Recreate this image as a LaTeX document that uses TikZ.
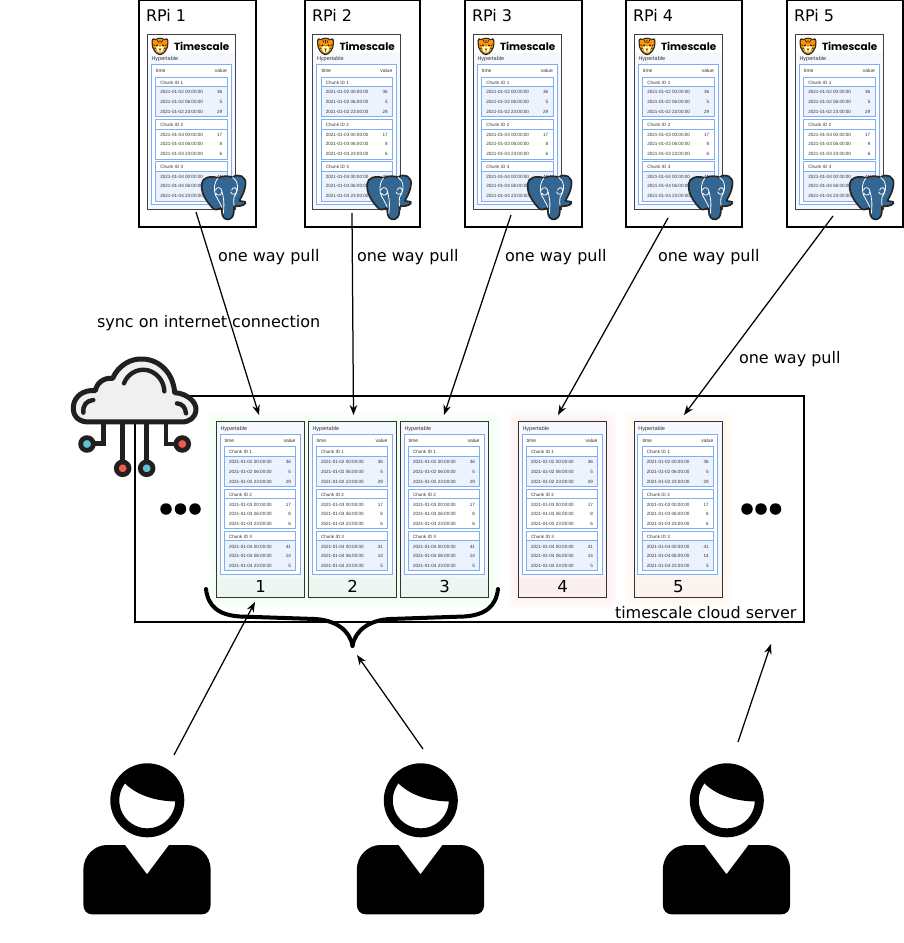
\documentclass[tikz,border=0pt]{standalone}
\usepackage{fontspec}
\setmainfont{DejaVu Sans}
\newfontfamily\tblfont{Liberation Sans}
\newfontfamily\logofont{Poppins}
\usetikzlibrary{arrows.meta}
\definecolor{tblblue}{HTML}{7FAEF2}
\definecolor{rowblue}{HTML}{ECF2FE}
\definecolor{panel}{HTML}{F6F8FF}
\definecolor{pgblue}{HTML}{336791}
\definecolor{cldark}{HTML}{231F20}
\definecolor{gbot}{HTML}{EEF6F1}
\definecolor{pbot}{HTML}{FBEFEF}
\definecolor{obot}{HTML}{FDF3EE}
\definecolor{pcyan}{HTML}{5CC5D5}
\definecolor{pred}{HTML}{EE5B4F}
\newcommand{\chunktwob}{8}
\tikzset{
  every node/.style={outer sep=0pt},
  arr/.style={draw=black,line width=1.25pt,-{Stealth[length=10pt,width=7.5pt]}},
  lbl/.style={font=\fontsize{16}{18}\selectfont,inner sep=0pt,anchor=west},
  numlbl/.style={font=\fontsize{16.5}{18}\selectfont,inner sep=0pt},
  tbl/.style={font=\tblfont\fontsize{4.6}{5}\selectfont,inner sep=0pt,text=black!80},
  tblhead/.style={font=\tblfont\fontsize{5}{6}\selectfont,inner sep=0pt,text=black!80},
  tbltitle/.style={font=\tblfont\fontsize{5.5}{6}\selectfont,inner sep=0pt,text=black!80},
  framebox/.style={draw=black,line width=1.8pt,inner sep=0pt,rectangle},
  innerbox/.style={draw=black!75,line width=0.9pt,fill=white,inner sep=0pt,rectangle,minimum width=88pt,minimum height=175pt},
  cardbox/.style={draw=black!80,line width=0.9pt,inner sep=0pt,rectangle,minimum width=88pt,minimum height=176pt},
  tblline/.style={draw=tblblue,line width=0.9pt},
  blackdot/.style={circle,fill=black,inner sep=0pt,minimum size=11.5pt},
  cloudpin/.style={draw=cldark,line width=4.6pt},
}
% #1 name prefix, #2,#3 top-left of the blue outer table frame
\newcommand{\hyper}[3]{%
\begin{scope}[shift={(#2,#3)}]
  \fill[white] (0,0) rectangle (80,140);
  \draw[tblline] (0,0) rectangle (80,140);
  \node[tblhead,anchor=west] (#1time) at (4.7,6) {time};
  \node[tblhead,anchor=east] (#1value) at (75.5,6) {value};
  \foreach \ci/\ctop/\fillc/\dday/\vala/\valb/\valc in {1/12.4/rowblue/02/36/5/29,2/54.7/white/03/17/\chunktwob/6,3/96.7/rowblue/04/41/14/5}{
    \fill[\fillc] (4.3,\ctop+9.6) rectangle (75.7,\ctop+39.6);
    \draw[tblline] (4.3,\ctop) rectangle (75.7,\ctop+39.6);
    \draw[tblline] (4.3,\ctop+9.6) -- (75.7,\ctop+9.6);
    \node[tbl,anchor=west] (#1c\ci) at (9,\ctop+5.3) {Chunk ID \ci};
    \node[tbl,anchor=west] (#1c\ci a) at (9,\ctop+15.3) {2021-01-\dday\ 00:00:00};
    \node[tbl,anchor=west] (#1c\ci b) at (9,\ctop+25) {2021-01-\dday\ 06:00:00};
    \node[tbl,anchor=west] (#1c\ci d) at (9,\ctop+34.6) {2021-01-\dday\ 23:00:00};
    \node[tbl,anchor=east] (#1v\ci a) at (71,\ctop+15.3) {\vala};
    \node[tbl,anchor=east] (#1v\ci b) at (71,\ctop+25) {\valb};
    \node[tbl,anchor=east] (#1v\ci d) at (71,\ctop+34.6) {\valc};
  }
\end{scope}}
% tiger logo centred at #1,#2
\newcommand{\tiger}[2]{%
\begin{scope}[shift={(#1,#2)}]
  \fill[black!85] (-8.5,-4) .. controls (-9,-8) and (-6.5,-9.5) .. (-5,-7.5) .. controls (-2,-9.5) and (2,-9.5) .. (5,-7.5) .. controls (6.5,-9.5) and (9,-8) .. (8.5,-4) .. controls (9,2) and (4,8.5) .. (0,8.5) .. controls (-4,8.5) and (-9,2) .. (-8.5,-4) -- cycle;
  \fill[orange!85!yellow] (-7.3,-4) .. controls (-7.5,-7) and (-5.8,-8) .. (-4.6,-6.4) .. controls (-2,-8.2) and (2,-8.2) .. (4.6,-6.4) .. controls (5.8,-8) and (7.5,-7) .. (7.3,-4) .. controls (7.6,1.5) and (3.5,7) .. (0,7) .. controls (-3.5,7) and (-7.6,1.5) .. (-7.3,-4) -- cycle;
  \fill[white!80!yellow] (-4,0) .. controls (-3,-2) and (-1,-1) .. (0,0.5) .. controls (1,-1) and (3,-2) .. (4,0) .. controls (4,3) and (2,6) .. (0,6) .. controls (-2,6) and (-4,3) .. (-4,0) -- cycle;
  \fill[black!85] (-3,-1.2) circle (1.1) (3,-1.2) circle (1.1);
  \fill[black!85] (-1.4,2) -- (1.4,2) -- (0,3.6) -- cycle;
  \draw[black!85,line width=0.7pt] (0,-6.8) -- (0,-3.5) (-2.6,-6.6) -- (-1.6,-4) (2.6,-6.6) -- (1.6,-4) (-6.5,-2) -- (-5,-1) (6.5,-2) -- (5,-1) (-6,1.5) -- (-4.2,1.5) (6,1.5) -- (4.2,1.5) (0,3.6) -- (0,5);
\end{scope}}
% PostgreSQL elephant; #1,#2 = top-left of a 70x70 crop
\newcommand{\elephant}[2]{%
\begin{scope}[shift={(#1,#2)},x=0.3333pt,y=-0.3333pt]
  \path[fill=pgblue,draw=black!85,line width=1.7pt,line join=round]
    (35,72) .. controls (36,52) and (62,46) .. (84,54)
    .. controls (98,46) and (118,48) .. (128,52)
    .. controls (145,38) and (172,50) .. (166,76)
    .. controls (165,92) and (155,110) .. (148,122)
    .. controls (155,126) and (170,122) .. (166,130)
    .. controls (160,138) and (143,140) .. (132,138)
    .. controls (132,150) and (132,166) .. (126,172)
    .. controls (116,184) and (100,178) .. (97,165)
    .. controls (95,155) and (95,148) .. (95,142)
    .. controls (85,150) and (72,152) .. (66,142)
    .. controls (48,122) and (33,100) .. (35,72) -- cycle;
  \draw[white,line width=0.8pt,line cap=round]
    (84,54) .. controls (70,70) and (70,100) .. (82,115)
    (128,52) .. controls (145,62) and (148,90) .. (132,112) .. controls (130,120) and (132,130) .. (132,138)
    (82,115) .. controls (86,125) and (92,130) .. (95,142)
    (76,90) .. controls (82,78) and (94,82) .. (96,94) .. controls (96,108) and (80,108) .. (78,100)
    (125,90) .. controls (130,78) and (142,82) .. (140,96) .. controls (136,106) and (124,104) .. (122,96)
    (96,94) .. controls (100,112) and (104,125) .. (100,160);
\end{scope}}
% #1 name, #2 inner-frame left, #3 frame left, #4 frame width
\newcommand{\rpibox}[4]{%
  \node[framebox,fill=white,minimum width=#4pt,minimum height=227pt,anchor=north west] (rpi#1) at (#3,0) {};
  \node[lbl,anchor=west] (rpilabel#1) at (#3+7,15.5) {RPi #1};
  \node[innerbox,anchor=north west] (pi#1) at (#2,34) {};
  \fill[panel] (#2,52.5) rectangle (#2+88,209);
  \draw[black!75,line width=0.9pt] (pi#1.north west) rectangle (pi#1.south east);
  \tiger{#2+13}{46.7}
  \node[inner sep=0pt,anchor=west,font=\logofont\fontsize{10.4}{12}\selectfont\bfseries] (logo#1) at (#2+27,46.5) {Timescale};
  \node[tbltitle,anchor=west] (rh#1) at (#2+4.5,59) {Hypertable};
  \hyper{r#1}{#2+4.3}{64.7}
  \elephant{#2+43}{160}
}
% #1 number, #2 left x, #3 bottom colour
\newcommand{\card}[3]{%
  \node[cardbox,anchor=north west,fill=#3] (card#1) at (#2,421.5) {};
  \fill[panel] (#2,421.5) rectangle (#2+88,577);
  \node[tbltitle,anchor=west] (ch#1) at (#2+4,429) {Hypertable};
  \hyper{t#1}{#2+3.5}{434.5}
  \node[numlbl] (num#1) at (#2+44,586.5) {#1};
  \draw[black!80,line width=0.9pt] (card#1.north west) rectangle (card#1.south east);
}
\newcommand{\glow}[3]{% #1 left #2 right #3 colour
  \foreach \gg in {10,8,6,4,2}{
    \fill[#3,opacity=0.2,rounded corners=4pt] (#1-\gg,421.5-\gg) rectangle (#2+\gg,597.5+\gg);
  }
}
% #1 name, #2 centre x
\newcommand{\person}[2]{%
\begin{scope}[shift={(#2,0)}]
  \node[circle,draw=black,line width=9pt,minimum size=65pt,inner sep=0pt,fill=white] (head#1) at (0.3,800.3) {};
  \fill[black] (-22,783.5) .. controls (-10,795) and (8,801.5) .. (31,801.5) .. controls (31,785) and (15,771) .. (0,771) .. controls (-10,771) and (-18,776) .. (-22,783.5) -- cycle;
  \fill[black] (-63.7,870) .. controls (-63.7,855) and (-52,845) .. (-40,845) -- (-22,845) -- (0,874.3) -- (22,845) -- (40,845) .. controls (52,845) and (63.7,855) .. (63.7,870) -- (63.7,904) .. controls (63.7,911) and (60,914.4) .. (54,914.4) -- (-54,914.4) .. controls (-60,914.4) and (-63.7,911) .. (-63.7,904) -- cycle;
\end{scope}}
\begin{document}
\begin{tikzpicture}[x=1pt,y=-1pt]
\useasboundingbox (0,0) rectangle (904,943);
% server
\node[framebox,fill=white,minimum width=669pt,minimum height=226pt,anchor=north west] (server) at (135,396) {};
% glows and cards
\glow{217}{488.5}{green!7}
\glow{518.5}{606}{red!7}
\glow{634}{722}{orange!8}
\card{1}{216.5}{gbot}
\card{2}{308.5}{gbot}
\card{3}{400.5}{gbot}
\card{4}{518.5}{pbot}
\card{5}{634.3}{obot}
% dots
\node[blackdot] (dl1) at (166,509) {};\node[blackdot] (dl2) at (180.5,509) {};\node[blackdot] (dl3) at (195,509) {};
\node[blackdot] (dr1) at (747,509) {};\node[blackdot] (dr2) at (761,509) {};\node[blackdot] (dr3) at (775.5,509) {};
% brace
\draw[line width=4pt,line cap=round,black] (206,589) .. controls (208,606) and (218,615) .. (240,616.5) -- (315,619) .. controls (335,620) and (350,630) .. (352.5,646);
\draw[line width=4pt,line cap=round,black] (498,589) .. controls (496,606) and (486,615) .. (464,616.5) -- (390,619) .. controls (370,620) and (355,630) .. (352.5,646);
% server label
\node[lbl] (serverlabel) at (615,612.5) {timescale cloud server};
\node[lbl] (sync) at (97,323) {sync on internet connection};
% RPi boxes
\rpibox{1}{147}{139}{117}
\rpibox{2}{312.5}{305}{115}
\rpibox{3}{473}{465}{117}
\rpibox{4}{634}{626}{116}
\renewcommand{\chunktwob}{9}
\rpibox{5}{795}{787}{116}
% cloud
\begin{scope}[shift={(60,350)},x=0.3333pt,y=-0.3333pt]
  \draw[cloudpin] (130,215) -- (130,280) -- (90,280);
  \draw[cloudpin] (188,215) -- (188,345);
  \draw[cloudpin] (260,215) -- (260,345);
  \draw[cloudpin] (318,215) -- (318,282) -- (360,282);
  \filldraw[fill=pcyan,draw=cldark,line width=4.8pt] (81,282) circle (19);
  \filldraw[fill=pred,draw=cldark,line width=4.8pt] (188,355) circle (19);
  \filldraw[fill=pcyan,draw=cldark,line width=4.8pt] (260,355) circle (19);
  \filldraw[fill=pred,draw=cldark,line width=4.8pt] (367,282) circle (19);
  \path[fill=black!6,draw=cldark,line width=5pt,line join=round]
    (82,216) .. controls (52,214) and (38,195) .. (40,170)
    .. controls (42,140) and (70,118) .. (106,122)
    .. controls (110,100) and (130,82) .. (158,85)
    .. controls (175,45) and (215,24) .. (250,27)
    .. controls (300,30) and (340,70) .. (344,128)
    .. controls (380,130) and (410,155) .. (408,180)
    .. controls (406,202) and (390,216) .. (365,216) -- cycle;
  \draw[cldark,line width=4.4pt,line cap=round]
    (192,100) .. controls (205,65) and (245,50) .. (275,65) .. controls (300,78) and (312,100) .. (313,124)
    (70,188) .. controls (68,165) and (80,152) .. (100,150)
    (351,160) .. controls (368,162) and (376,172) .. (378,190);
\end{scope}
% people
\person{1}{147}
\person{2}{420.5}
\person{3}{726.5}
% connector ends
\coordinate (o1) at (196,212);\coordinate (i1) at (259,415);
\coordinate (o2) at (352,213);\coordinate (i2) at (353.5,415);
\coordinate (o3) at (511,215);\coordinate (i3) at (444,415);
\coordinate (o4) at (668,218);\coordinate (i4) at (558,415);
\coordinate (o5) at (833,216);\coordinate (i5) at (684,415);
\foreach \kk in {1,...,5}{\draw[arr] (o\kk) -- (i\kk);}
\coordinate (u1) at (174,755);\coordinate (v1) at (255,602);
\coordinate (u2) at (423,749);\coordinate (v2) at (357,655);
\coordinate (u3) at (738,742);\coordinate (v3) at (771,644);
\foreach \kk in {1,2,3}{\draw[arr] (u\kk) -- (v\kk);}
% labels
\node[lbl] (w1) at (218,257) {one way pull};
\node[lbl] (w2) at (357,257) {one way pull};
\node[lbl] (w3) at (505,257) {one way pull};
\node[lbl] (w4) at (658,257) {one way pull};
\node[lbl] (w5) at (739,359) {one way pull};
\end{tikzpicture}
\end{document}
